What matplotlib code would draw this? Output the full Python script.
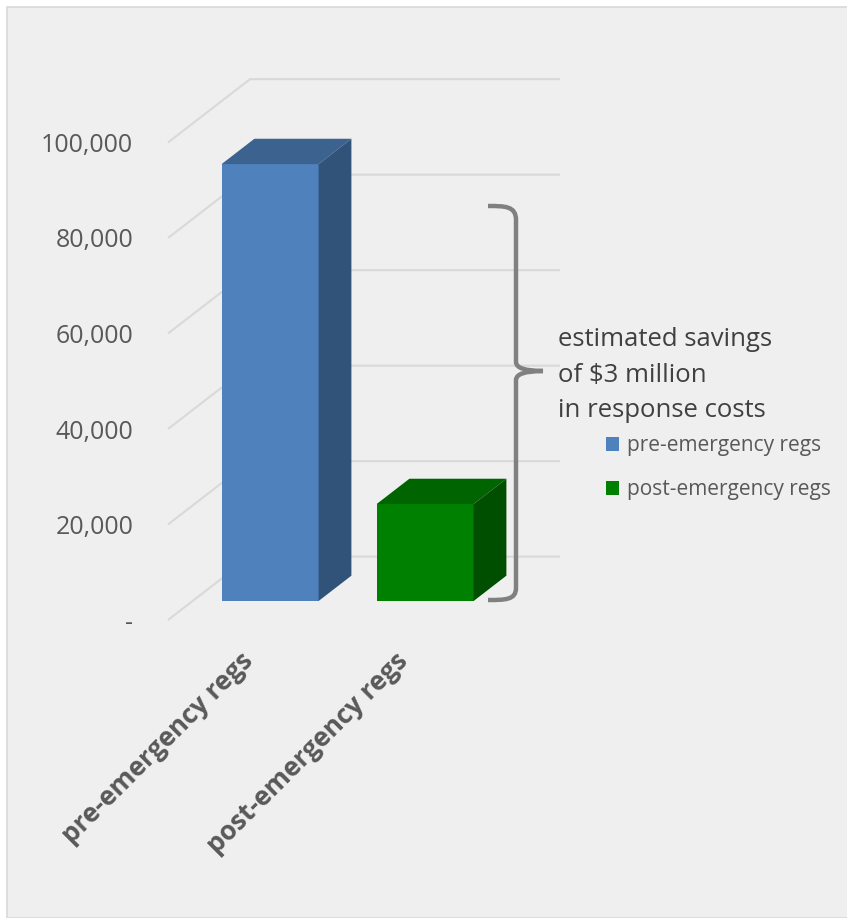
import matplotlib
matplotlib.use("Agg")
import matplotlib.pyplot as plt
from matplotlib.patches import Polygon, Rectangle, Patch
from matplotlib.path import Path
from matplotlib.patches import PathPatch
import matplotlib.transforms as mtransforms

plt.rcParams['font.family'] = ['Open Sans', 'DejaVu Sans']

# data
categories = ['pre-emergency regs', 'post-emergency regs']
values = [91500, 20300]
yticks = [0, 20000, 40000, 60000, 80000, 100000]
ytick_labels = ['-', '20,000', '40,000', '60,000', '80,000', '100,000']
note = 'estimated savings\nof $3 million\nin response costs'

front_cols = ['#4f81bd', '#008000']
top_cols = ['#3c6390', '#006400']
side_cols = ['#31537a', '#004f00']

W, H = 847, 918
fig = plt.figure(figsize=(W / 100, H / 100), dpi=100)
fig.patch.set_facecolor('white')

# grey chart area with thin border
fig.patches.append(Rectangle((7 / W, 0), 1, 1 - 7 / H, transform=fig.transFigure,
                             facecolor='#efefef', edgecolor='#d9d9d9', lw=1.2, zorder=-5))

def px(x, y):
    # pixel (from top-left) -> figure fraction
    return x / W, 1 - y / H

# front plane of the plot
l, b = px(168, 620)
r, t = px(478, 142.5)
ax = fig.add_axes([l, b, r - l, t - b])
ax.set_zorder(1)
ax.set_xlim(-0.5, 1.5)
ax.set_ylim(0, 100000)
ax.patch.set_visible(False)
for s in ax.spines.values():
    s.set_visible(False)

# depth of the box in data units (82px right, 63px up)
dx = 82 / 155
dy = 63 / 95 * 20000
f0, fd = 0.30, 0.40   # bar front position and bar depth (fraction of box depth)
bw = 97 / 155

# left wall + back wall gridlines
for v in yticks:
    ax.plot([-0.5, -0.5 + dx, 1.5 + dx], [v, v + dy, v + dy], color='#d9d9d9',
            lw=1.5, clip_on=False, zorder=1, solid_capstyle='butt')

xs = list(range(len(categories)))
ax.bar([x + f0 * dx for x in xs], values, width=bw, bottom=f0 * dy,
       color=front_cols, zorder=3, clip_on=False)
for x, v, tc, sc in zip(xs, values, top_cols, side_cols):
    x0 = x - bw / 2 + f0 * dx
    y0 = f0 * dy
    top = [(x0, y0 + v), (x0 + bw, y0 + v), (x0 + bw + fd * dx, y0 + v + fd * dy),
           (x0 + fd * dx, y0 + v + fd * dy)]
    side = [(x0 + bw, y0), (x0 + bw + fd * dx, y0 + fd * dy),
            (x0 + bw + fd * dx, y0 + v + fd * dy), (x0 + bw, y0 + v)]
    ax.add_patch(Polygon(top, closed=True, facecolor=tc, edgecolor='none', zorder=3, clip_on=False))
    ax.add_patch(Polygon(side, closed=True, facecolor=sc, edgecolor='none', zorder=3, clip_on=False))

ax.set_yticks(yticks)
ax.set_yticklabels(ytick_labels)
ax.tick_params(axis='y', length=0, pad=25, labelsize=18, labelcolor='#595959')
ax.set_xticks([])

# rotated category labels
off = mtransforms.offset_copy(ax.transData, fig=fig, x=13 * 0.72, y=-27 * 0.72, units='points')
for x, c in zip(xs, categories):
    ax.text(x, 0, c, transform=off, rotation=45, ha='right', va='top',
            fontsize=19, fontweight='bold', color='#595959')

# curly bracket
pts = [(488, 206), (505, 206), (516, 206), (516, 220), (516, 362), (516, 371), (543, 371),
       (516, 371), (516, 380), (516, 588), (516, 600), (505, 600), (488, 600)]
codes = [Path.MOVETO, Path.CURVE4, Path.CURVE4, Path.CURVE4, Path.LINETO,
         Path.CURVE3, Path.CURVE3, Path.CURVE3, Path.CURVE3, Path.LINETO,
         Path.CURVE4, Path.CURVE4, Path.CURVE4]
verts = [px(*p) for p in pts]
fig.patches.append(PathPatch(Path(verts, codes), transform=fig.transFigure,
                             facecolor='none', edgecolor='#808080', lw=3.2, zorder=4))

fig.text(*px(558, 375), note, ha='left', va='center', fontsize=18.5,
         color='#404040', linespacing=1.55)

handles = [Patch(facecolor=c, edgecolor='none') for c in front_cols]
fig.legend(handles, categories, loc='upper left', bbox_to_anchor=px(596, 425),
           frameon=False, fontsize=15, labelcolor='#595959', handlelength=0.62,
           handleheight=0.62, handletextpad=0.35, labelspacing=1.1, borderpad=0)

fig.savefig('out.png', dpi=100, facecolor=fig.get_facecolor())
